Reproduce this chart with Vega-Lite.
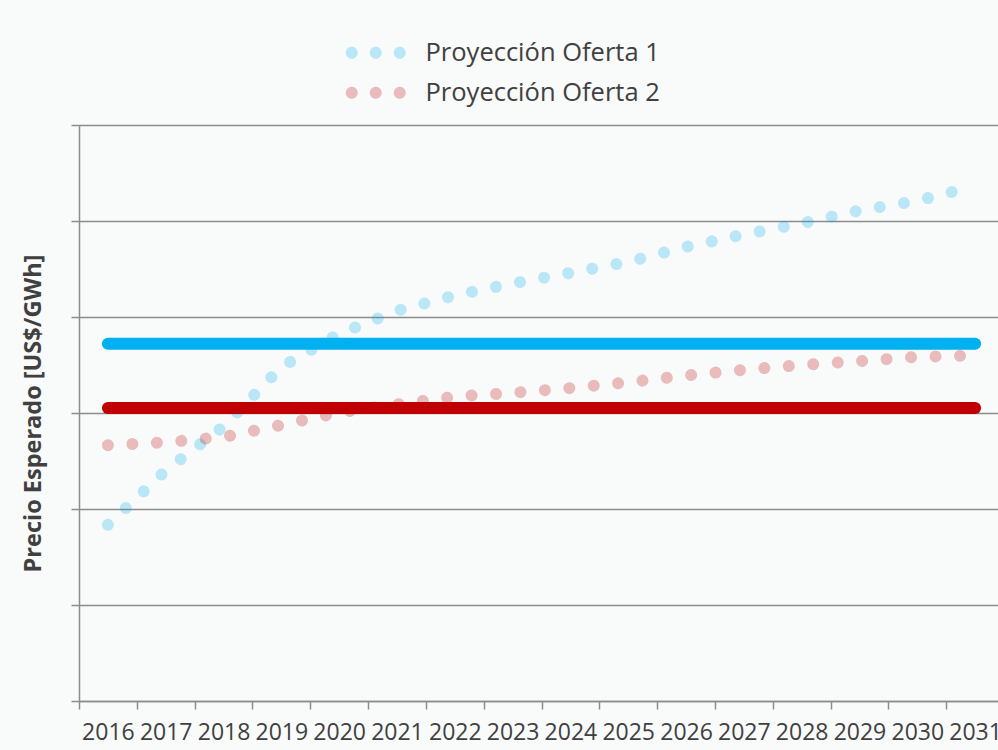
{
  "$schema": "https://vega.github.io/schema/vega-lite/v6.json",
  "autosize": {"type": "none"},
  "width": 919,
  "height": 576,
  "padding": {"left": 79, "top": 125, "right": 0, "bottom": 49},
  "background": "#F9FAFA",
  "config": {"view": {"stroke": null}, "font": "Open Sans"},
  "layer": [
    {
      "data": {"values": [
        {"year": "2016", "serie": "Proyección Oferta 1", "value": 36.7},
        {"year": "2017", "serie": "Proyección Oferta 1", "value": 48.0},
        {"year": "2018", "serie": "Proyección Oferta 1", "value": 57.2},
        {"year": "2019", "serie": "Proyección Oferta 1", "value": 69.6},
        {"year": "2020", "serie": "Proyección Oferta 1", "value": 76.5},
        {"year": "2021", "serie": "Proyección Oferta 1", "value": 81.3},
        {"year": "2022", "serie": "Proyección Oferta 1", "value": 84.5},
        {"year": "2023", "serie": "Proyección Oferta 1", "value": 87.0},
        {"year": "2024", "serie": "Proyección Oferta 1", "value": 89.2},
        {"year": "2025", "serie": "Proyección Oferta 1", "value": 91.5},
        {"year": "2026", "serie": "Proyección Oferta 1", "value": 94.6},
        {"year": "2027", "serie": "Proyección Oferta 1", "value": 97.2},
        {"year": "2028", "serie": "Proyección Oferta 1", "value": 99.5},
        {"year": "2029", "serie": "Proyección Oferta 1", "value": 102.2},
        {"year": "2030", "serie": "Proyección Oferta 1", "value": 104.2},
        {"year": "2031", "serie": "Proyección Oferta 1", "value": 107.3},
        {"year": "2016", "serie": "Proyección Oferta 2", "value": 53.3},
        {"year": "2017", "serie": "Proyección Oferta 2", "value": 53.9},
        {"year": "2018", "serie": "Proyección Oferta 2", "value": 55.0},
        {"year": "2019", "serie": "Proyección Oferta 2", "value": 57.5},
        {"year": "2020", "serie": "Proyección Oferta 2", "value": 60.1},
        {"year": "2021", "serie": "Proyección Oferta 2", "value": 61.8},
        {"year": "2022", "serie": "Proyección Oferta 2", "value": 63.4},
        {"year": "2023", "serie": "Proyección Oferta 2", "value": 64.2},
        {"year": "2024", "serie": "Proyección Oferta 2", "value": 65.2},
        {"year": "2025", "serie": "Proyección Oferta 2", "value": 66.4},
        {"year": "2026", "serie": "Proyección Oferta 2", "value": 67.8},
        {"year": "2027", "serie": "Proyección Oferta 2", "value": 69.0},
        {"year": "2028", "serie": "Proyección Oferta 2", "value": 70.0},
        {"year": "2029", "serie": "Proyección Oferta 2", "value": 70.8},
        {"year": "2030", "serie": "Proyección Oferta 2", "value": 71.7},
        {"year": "2031", "serie": "Proyección Oferta 2", "value": 72.0}
      ]},
      "mark": {"type": "line", "strokeWidth": 12, "strokeCap": "round", "strokeDash": [0.01, 24.5], "strokeOpacity": 0.25},
      "encoding": {
        "x": {
          "field": "year", "type": "ordinal", "bandPosition": 0.5,
          "scale": {"type": "band", "range": [0, 925], "paddingInner": 0, "paddingOuter": 0},
          "axis": {
            "title": null, "tickBand": "extent", "labelAngle": 0,
            "labelFont": "Open Sans", "labelFontSize": 23, "labelColor": "#404040",
            "labelPadding": 12, "tickSize": 8, "tickColor": "#8C8C8C", "tickWidth": 1.5,
            "domainColor": "#8C8C8C", "domainWidth": 1.5, "grid": false,
            "labelOverlap": false, "labelBound": false
          }
        },
        "y": {
          "field": "value", "type": "quantitative",
          "scale": {"domain": [0, 120], "nice": false},
          "axis": {
            "title": "Precio Esperado [US$/GWh]", "titleFont": "Open Sans", "titleFontWeight": "bold",
            "titleFontSize": 23.5, "titleColor": "#404040", "titlePadding": 25,
            "labels": false, "values": [0, 20, 40, 60, 80, 100, 120],
            "grid": true, "gridColor": "#8C8C8C", "gridWidth": 1.5,
            "tickSize": 8, "tickColor": "#8C8C8C", "tickWidth": 1.5,
            "domainColor": "#8C8C8C", "domainWidth": 1.5
          }
        },
        "color": {
          "field": "serie", "type": "nominal",
          "scale": {"domain": ["Proyección Oferta 1", "Proyección Oferta 2"], "range": ["#00B0F0", "#C00000"]},
          "legend": {
            "title": null, "orient": "none", "legendX": 284, "legendY": -85,
            "symbolType": "M -5,0 A 1,1 0 1,0 -3,0 A 1,1 0 1,0 -5,0 Z M -1,0 A 1,1 0 1,0 1,0 A 1,1 0 1,0 -1,0 Z M 3,0 A 1,1 0 1,0 5,0 A 1,1 0 1,0 3,0 Z",
            "symbolSize": 144, "symbolStrokeWidth": 0, "symbolOpacity": 1,
            "labelFont": "Open Sans", "labelFontSize": 25.5, "labelColor": "#404040", "labelLimit": 0,
            "labelOffset": 37, "rowPadding": 13, "padding": 0,
            "encode": {"symbols": {"update": {"fill": {"scale": "color", "field": "value"}, "fillOpacity": {"value": 0.25}, "opacity": {"value": 1}, "strokeWidth": {"value": 0}}}}
          }
        }
      }
    },
    {
      "data": {"values": [
        {"year": "2016", "value": 74.45},
        {"year": "2031", "value": 74.45}
      ]},
      "mark": {"type": "line", "strokeWidth": 12, "strokeCap": "round", "color": "#00B0F0"},
      "encoding": {
        "x": {"field": "year", "type": "ordinal", "bandPosition": 0.5},
        "y": {"field": "value", "type": "quantitative"}
      }
    },
    {
      "data": {"values": [
        {"year": "2016", "value": 61.05},
        {"year": "2031", "value": 61.05}
      ]},
      "mark": {"type": "line", "strokeWidth": 12, "strokeCap": "round", "color": "#C00000"},
      "encoding": {
        "x": {"field": "year", "type": "ordinal", "bandPosition": 0.5},
        "y": {"field": "value", "type": "quantitative"}
      }
    }
  ]
}
